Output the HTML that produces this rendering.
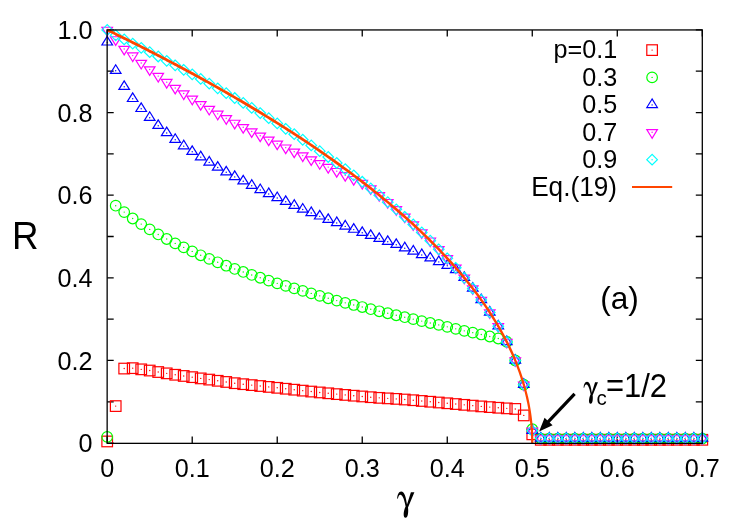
<!DOCTYPE html>
<html><head><meta charset="utf-8"><title>R vs gamma</title>
<style>
html,body{margin:0;padding:0;background:#fff;}
body{width:747px;height:523px;overflow:hidden;font-family:"Liberation Sans",sans-serif;}
svg{display:block;}
</style></head>
<body>
<svg width="747" height="523" viewBox="0 0 747 523">
<rect width="747" height="523" fill="#fff"/>
<path d="M107.20 443.1v-6.5M107.20 29.9v6.5M192.21 443.1v-6.5M192.21 29.9v6.5M277.23 443.1v-6.5M277.23 29.9v6.5M362.24 443.1v-6.5M362.24 29.9v6.5M447.26 443.1v-6.5M447.26 29.9v6.5M532.27 443.1v-6.5M532.27 29.9v6.5M617.29 443.1v-6.5M617.29 29.9v6.5M702.30 443.1v-6.5M702.30 29.9v6.5M107.2 443.10h6.5M702.3 443.10h-6.5M107.2 401.78h6.5M702.3 401.78h-6.5M107.2 360.46h6.5M702.3 360.46h-6.5M107.2 319.14h6.5M702.3 319.14h-6.5M107.2 277.82h6.5M702.3 277.82h-6.5M107.2 236.50h6.5M702.3 236.50h-6.5M107.2 195.18h6.5M702.3 195.18h-6.5M107.2 153.86h6.5M702.3 153.86h-6.5M107.2 112.54h6.5M702.3 112.54h-6.5M107.2 71.22h6.5M702.3 71.22h-6.5M107.2 29.90h6.5M702.3 29.90h-6.5" stroke="#000" stroke-width="1.3" fill="none"/>
<g fill="none" stroke-width="1.20" stroke-linejoin="miter">
<g stroke="#ff0000">
<rect x="646.80" y="44.80" width="10.6" height="10.6"/>
<rect x="101.90" y="436.15" width="10.6" height="10.6"/>
<rect x="110.40" y="400.78" width="10.6" height="10.6"/>
<rect x="118.90" y="363.26" width="10.6" height="10.6"/>
<rect x="127.40" y="362.85" width="10.6" height="10.6"/>
<rect x="135.91" y="364.04" width="10.6" height="10.6"/>
<rect x="144.41" y="365.24" width="10.6" height="10.6"/>
<rect x="152.91" y="366.73" width="10.6" height="10.6"/>
<rect x="161.41" y="368.05" width="10.6" height="10.6"/>
<rect x="169.91" y="369.46" width="10.6" height="10.6"/>
<rect x="178.41" y="370.66" width="10.6" height="10.6"/>
<rect x="186.91" y="371.85" width="10.6" height="10.6"/>
<rect x="195.42" y="373.09" width="10.6" height="10.6"/>
<rect x="203.92" y="374.29" width="10.6" height="10.6"/>
<rect x="212.42" y="375.49" width="10.6" height="10.6"/>
<rect x="220.92" y="376.65" width="10.6" height="10.6"/>
<rect x="229.42" y="377.89" width="10.6" height="10.6"/>
<rect x="237.92" y="378.88" width="10.6" height="10.6"/>
<rect x="246.42" y="379.81" width="10.6" height="10.6"/>
<rect x="254.93" y="380.72" width="10.6" height="10.6"/>
<rect x="263.43" y="381.61" width="10.6" height="10.6"/>
<rect x="271.93" y="382.51" width="10.6" height="10.6"/>
<rect x="280.43" y="383.44" width="10.6" height="10.6"/>
<rect x="288.93" y="384.39" width="10.6" height="10.6"/>
<rect x="297.43" y="385.33" width="10.6" height="10.6"/>
<rect x="305.93" y="386.26" width="10.6" height="10.6"/>
<rect x="314.44" y="387.14" width="10.6" height="10.6"/>
<rect x="322.94" y="387.99" width="10.6" height="10.6"/>
<rect x="331.44" y="388.82" width="10.6" height="10.6"/>
<rect x="339.94" y="389.62" width="10.6" height="10.6"/>
<rect x="348.44" y="390.40" width="10.6" height="10.6"/>
<rect x="356.94" y="391.15" width="10.6" height="10.6"/>
<rect x="365.44" y="391.89" width="10.6" height="10.6"/>
<rect x="373.95" y="392.55" width="10.6" height="10.6"/>
<rect x="382.45" y="393.07" width="10.6" height="10.6"/>
<rect x="390.95" y="393.59" width="10.6" height="10.6"/>
<rect x="399.45" y="394.22" width="10.6" height="10.6"/>
<rect x="407.95" y="394.91" width="10.6" height="10.6"/>
<rect x="416.45" y="395.66" width="10.6" height="10.6"/>
<rect x="424.95" y="396.43" width="10.6" height="10.6"/>
<rect x="433.46" y="397.20" width="10.6" height="10.6"/>
<rect x="441.96" y="397.97" width="10.6" height="10.6"/>
<rect x="450.46" y="398.74" width="10.6" height="10.6"/>
<rect x="458.96" y="399.54" width="10.6" height="10.6"/>
<rect x="467.46" y="400.33" width="10.6" height="10.6"/>
<rect x="475.96" y="401.10" width="10.6" height="10.6"/>
<rect x="484.46" y="401.81" width="10.6" height="10.6"/>
<rect x="492.97" y="402.46" width="10.6" height="10.6"/>
<rect x="501.47" y="403.06" width="10.6" height="10.6"/>
<rect x="509.97" y="403.63" width="10.6" height="10.6"/>
<rect x="518.47" y="410.12" width="10.6" height="10.6"/>
<rect x="526.97" y="429.04" width="10.6" height="10.6"/>
<rect x="535.47" y="434.49" width="10.6" height="10.6"/>
<rect x="543.97" y="434.49" width="10.6" height="10.6"/>
<rect x="552.48" y="434.49" width="10.6" height="10.6"/>
<rect x="560.98" y="434.49" width="10.6" height="10.6"/>
<rect x="569.48" y="434.49" width="10.6" height="10.6"/>
<rect x="577.98" y="434.49" width="10.6" height="10.6"/>
<rect x="586.48" y="434.49" width="10.6" height="10.6"/>
<rect x="594.98" y="434.49" width="10.6" height="10.6"/>
<rect x="603.48" y="434.49" width="10.6" height="10.6"/>
<rect x="611.99" y="434.49" width="10.6" height="10.6"/>
<rect x="620.49" y="434.49" width="10.6" height="10.6"/>
<rect x="628.99" y="434.49" width="10.6" height="10.6"/>
<rect x="637.49" y="434.49" width="10.6" height="10.6"/>
<rect x="645.99" y="434.49" width="10.6" height="10.6"/>
<rect x="654.49" y="434.49" width="10.6" height="10.6"/>
<rect x="662.99" y="434.49" width="10.6" height="10.6"/>
<rect x="671.50" y="434.49" width="10.6" height="10.6"/>
<rect x="680.00" y="434.49" width="10.6" height="10.6"/>
<rect x="688.50" y="434.49" width="10.6" height="10.6"/>
<rect x="697.00" y="434.49" width="10.6" height="10.6"/>
</g>
<g fill="#ff0000" stroke="none">
<circle cx="652.10" cy="50.10" r="0.7"/>
<circle cx="107.20" cy="441.45" r="0.7"/>
<circle cx="115.70" cy="406.08" r="0.7"/>
<circle cx="124.20" cy="368.56" r="0.7"/>
<circle cx="132.70" cy="368.15" r="0.7"/>
<circle cx="141.21" cy="369.34" r="0.7"/>
<circle cx="149.71" cy="370.54" r="0.7"/>
<circle cx="158.21" cy="372.03" r="0.7"/>
<circle cx="166.71" cy="373.35" r="0.7"/>
<circle cx="175.21" cy="374.76" r="0.7"/>
<circle cx="183.71" cy="375.96" r="0.7"/>
<circle cx="192.21" cy="377.15" r="0.7"/>
<circle cx="200.72" cy="378.39" r="0.7"/>
<circle cx="209.22" cy="379.59" r="0.7"/>
<circle cx="217.72" cy="380.79" r="0.7"/>
<circle cx="226.22" cy="381.95" r="0.7"/>
<circle cx="234.72" cy="383.19" r="0.7"/>
<circle cx="243.22" cy="384.18" r="0.7"/>
<circle cx="251.72" cy="385.11" r="0.7"/>
<circle cx="260.23" cy="386.02" r="0.7"/>
<circle cx="268.73" cy="386.91" r="0.7"/>
<circle cx="277.23" cy="387.81" r="0.7"/>
<circle cx="285.73" cy="388.74" r="0.7"/>
<circle cx="294.23" cy="389.69" r="0.7"/>
<circle cx="302.73" cy="390.63" r="0.7"/>
<circle cx="311.23" cy="391.56" r="0.7"/>
<circle cx="319.74" cy="392.44" r="0.7"/>
<circle cx="328.24" cy="393.29" r="0.7"/>
<circle cx="336.74" cy="394.12" r="0.7"/>
<circle cx="345.24" cy="394.92" r="0.7"/>
<circle cx="353.74" cy="395.70" r="0.7"/>
<circle cx="362.24" cy="396.45" r="0.7"/>
<circle cx="370.74" cy="397.19" r="0.7"/>
<circle cx="379.25" cy="397.85" r="0.7"/>
<circle cx="387.75" cy="398.37" r="0.7"/>
<circle cx="396.25" cy="398.89" r="0.7"/>
<circle cx="404.75" cy="399.52" r="0.7"/>
<circle cx="413.25" cy="400.21" r="0.7"/>
<circle cx="421.75" cy="400.96" r="0.7"/>
<circle cx="430.25" cy="401.73" r="0.7"/>
<circle cx="438.76" cy="402.50" r="0.7"/>
<circle cx="447.26" cy="403.27" r="0.7"/>
<circle cx="455.76" cy="404.04" r="0.7"/>
<circle cx="464.26" cy="404.84" r="0.7"/>
<circle cx="472.76" cy="405.63" r="0.7"/>
<circle cx="481.26" cy="406.40" r="0.7"/>
<circle cx="489.76" cy="407.11" r="0.7"/>
<circle cx="498.27" cy="407.76" r="0.7"/>
<circle cx="506.77" cy="408.36" r="0.7"/>
<circle cx="515.27" cy="408.93" r="0.7"/>
<circle cx="523.77" cy="415.42" r="0.7"/>
<circle cx="532.27" cy="434.34" r="0.7"/>
<circle cx="540.77" cy="439.79" r="0.7"/>
<circle cx="549.27" cy="439.79" r="0.7"/>
<circle cx="557.78" cy="439.79" r="0.7"/>
<circle cx="566.28" cy="439.79" r="0.7"/>
<circle cx="574.78" cy="439.79" r="0.7"/>
<circle cx="583.28" cy="439.79" r="0.7"/>
<circle cx="591.78" cy="439.79" r="0.7"/>
<circle cx="600.28" cy="439.79" r="0.7"/>
<circle cx="608.78" cy="439.79" r="0.7"/>
<circle cx="617.29" cy="439.79" r="0.7"/>
<circle cx="625.79" cy="439.79" r="0.7"/>
<circle cx="634.29" cy="439.79" r="0.7"/>
<circle cx="642.79" cy="439.79" r="0.7"/>
<circle cx="651.29" cy="439.79" r="0.7"/>
<circle cx="659.79" cy="439.79" r="0.7"/>
<circle cx="668.29" cy="439.79" r="0.7"/>
<circle cx="676.80" cy="439.79" r="0.7"/>
<circle cx="685.30" cy="439.79" r="0.7"/>
<circle cx="693.80" cy="439.79" r="0.7"/>
<circle cx="702.30" cy="439.79" r="0.7"/>
</g>
<g stroke="#00ff00">
<circle cx="652.10" cy="77.40" r="5.3"/>
<circle cx="107.20" cy="436.90" r="5.3"/>
<circle cx="115.70" cy="205.68" r="5.3"/>
<circle cx="124.20" cy="212.12" r="5.3"/>
<circle cx="132.70" cy="218.48" r="5.3"/>
<circle cx="141.21" cy="224.10" r="5.3"/>
<circle cx="149.71" cy="229.39" r="5.3"/>
<circle cx="158.21" cy="234.43" r="5.3"/>
<circle cx="166.71" cy="238.98" r="5.3"/>
<circle cx="175.21" cy="243.40" r="5.3"/>
<circle cx="183.71" cy="247.41" r="5.3"/>
<circle cx="192.21" cy="251.42" r="5.3"/>
<circle cx="200.72" cy="255.30" r="5.3"/>
<circle cx="209.22" cy="258.90" r="5.3"/>
<circle cx="217.72" cy="262.32" r="5.3"/>
<circle cx="226.22" cy="265.71" r="5.3"/>
<circle cx="234.72" cy="268.94" r="5.3"/>
<circle cx="243.22" cy="271.95" r="5.3"/>
<circle cx="251.72" cy="274.93" r="5.3"/>
<circle cx="260.23" cy="277.74" r="5.3"/>
<circle cx="268.73" cy="280.59" r="5.3"/>
<circle cx="277.23" cy="283.36" r="5.3"/>
<circle cx="285.73" cy="285.92" r="5.3"/>
<circle cx="294.23" cy="288.40" r="5.3"/>
<circle cx="302.73" cy="290.90" r="5.3"/>
<circle cx="311.23" cy="293.39" r="5.3"/>
<circle cx="319.74" cy="295.84" r="5.3"/>
<circle cx="328.24" cy="298.24" r="5.3"/>
<circle cx="336.74" cy="300.60" r="5.3"/>
<circle cx="345.24" cy="302.86" r="5.3"/>
<circle cx="353.74" cy="304.97" r="5.3"/>
<circle cx="362.24" cy="307.03" r="5.3"/>
<circle cx="370.74" cy="309.18" r="5.3"/>
<circle cx="379.25" cy="311.29" r="5.3"/>
<circle cx="387.75" cy="313.27" r="5.3"/>
<circle cx="396.25" cy="315.24" r="5.3"/>
<circle cx="404.75" cy="317.20" r="5.3"/>
<circle cx="413.25" cy="319.15" r="5.3"/>
<circle cx="421.75" cy="321.09" r="5.3"/>
<circle cx="430.25" cy="323.02" r="5.3"/>
<circle cx="438.76" cy="324.92" r="5.3"/>
<circle cx="447.26" cy="326.83" r="5.3"/>
<circle cx="455.76" cy="328.84" r="5.3"/>
<circle cx="464.26" cy="330.83" r="5.3"/>
<circle cx="472.76" cy="332.65" r="5.3"/>
<circle cx="481.26" cy="334.47" r="5.3"/>
<circle cx="489.76" cy="336.49" r="5.3"/>
<circle cx="498.27" cy="338.48" r="5.3"/>
<circle cx="506.77" cy="341.89" r="5.3"/>
<circle cx="515.27" cy="360.46" r="5.3"/>
<circle cx="523.77" cy="384.66" r="5.3"/>
<circle cx="532.27" cy="429.26" r="5.3"/>
<circle cx="540.77" cy="438.55" r="5.3"/>
<circle cx="549.27" cy="438.55" r="5.3"/>
<circle cx="557.78" cy="438.55" r="5.3"/>
<circle cx="566.28" cy="438.55" r="5.3"/>
<circle cx="574.78" cy="438.55" r="5.3"/>
<circle cx="583.28" cy="438.55" r="5.3"/>
<circle cx="591.78" cy="438.55" r="5.3"/>
<circle cx="600.28" cy="438.55" r="5.3"/>
<circle cx="608.78" cy="438.55" r="5.3"/>
<circle cx="617.29" cy="438.55" r="5.3"/>
<circle cx="625.79" cy="438.55" r="5.3"/>
<circle cx="634.29" cy="438.55" r="5.3"/>
<circle cx="642.79" cy="438.55" r="5.3"/>
<circle cx="651.29" cy="438.55" r="5.3"/>
<circle cx="659.79" cy="438.55" r="5.3"/>
<circle cx="668.29" cy="438.55" r="5.3"/>
<circle cx="676.80" cy="438.55" r="5.3"/>
<circle cx="685.30" cy="438.55" r="5.3"/>
<circle cx="693.80" cy="438.55" r="5.3"/>
<circle cx="702.30" cy="438.55" r="5.3"/>
</g>
<g fill="#00ff00" stroke="none">
<circle cx="652.10" cy="77.40" r="0.7"/>
<circle cx="107.20" cy="436.90" r="0.7"/>
<circle cx="115.70" cy="205.68" r="0.7"/>
<circle cx="124.20" cy="212.12" r="0.7"/>
<circle cx="132.70" cy="218.48" r="0.7"/>
<circle cx="141.21" cy="224.10" r="0.7"/>
<circle cx="149.71" cy="229.39" r="0.7"/>
<circle cx="158.21" cy="234.43" r="0.7"/>
<circle cx="166.71" cy="238.98" r="0.7"/>
<circle cx="175.21" cy="243.40" r="0.7"/>
<circle cx="183.71" cy="247.41" r="0.7"/>
<circle cx="192.21" cy="251.42" r="0.7"/>
<circle cx="200.72" cy="255.30" r="0.7"/>
<circle cx="209.22" cy="258.90" r="0.7"/>
<circle cx="217.72" cy="262.32" r="0.7"/>
<circle cx="226.22" cy="265.71" r="0.7"/>
<circle cx="234.72" cy="268.94" r="0.7"/>
<circle cx="243.22" cy="271.95" r="0.7"/>
<circle cx="251.72" cy="274.93" r="0.7"/>
<circle cx="260.23" cy="277.74" r="0.7"/>
<circle cx="268.73" cy="280.59" r="0.7"/>
<circle cx="277.23" cy="283.36" r="0.7"/>
<circle cx="285.73" cy="285.92" r="0.7"/>
<circle cx="294.23" cy="288.40" r="0.7"/>
<circle cx="302.73" cy="290.90" r="0.7"/>
<circle cx="311.23" cy="293.39" r="0.7"/>
<circle cx="319.74" cy="295.84" r="0.7"/>
<circle cx="328.24" cy="298.24" r="0.7"/>
<circle cx="336.74" cy="300.60" r="0.7"/>
<circle cx="345.24" cy="302.86" r="0.7"/>
<circle cx="353.74" cy="304.97" r="0.7"/>
<circle cx="362.24" cy="307.03" r="0.7"/>
<circle cx="370.74" cy="309.18" r="0.7"/>
<circle cx="379.25" cy="311.29" r="0.7"/>
<circle cx="387.75" cy="313.27" r="0.7"/>
<circle cx="396.25" cy="315.24" r="0.7"/>
<circle cx="404.75" cy="317.20" r="0.7"/>
<circle cx="413.25" cy="319.15" r="0.7"/>
<circle cx="421.75" cy="321.09" r="0.7"/>
<circle cx="430.25" cy="323.02" r="0.7"/>
<circle cx="438.76" cy="324.92" r="0.7"/>
<circle cx="447.26" cy="326.83" r="0.7"/>
<circle cx="455.76" cy="328.84" r="0.7"/>
<circle cx="464.26" cy="330.83" r="0.7"/>
<circle cx="472.76" cy="332.65" r="0.7"/>
<circle cx="481.26" cy="334.47" r="0.7"/>
<circle cx="489.76" cy="336.49" r="0.7"/>
<circle cx="498.27" cy="338.48" r="0.7"/>
<circle cx="506.77" cy="341.89" r="0.7"/>
<circle cx="515.27" cy="360.46" r="0.7"/>
<circle cx="523.77" cy="384.66" r="0.7"/>
<circle cx="532.27" cy="429.26" r="0.7"/>
<circle cx="540.77" cy="438.55" r="0.7"/>
<circle cx="549.27" cy="438.55" r="0.7"/>
<circle cx="557.78" cy="438.55" r="0.7"/>
<circle cx="566.28" cy="438.55" r="0.7"/>
<circle cx="574.78" cy="438.55" r="0.7"/>
<circle cx="583.28" cy="438.55" r="0.7"/>
<circle cx="591.78" cy="438.55" r="0.7"/>
<circle cx="600.28" cy="438.55" r="0.7"/>
<circle cx="608.78" cy="438.55" r="0.7"/>
<circle cx="617.29" cy="438.55" r="0.7"/>
<circle cx="625.79" cy="438.55" r="0.7"/>
<circle cx="634.29" cy="438.55" r="0.7"/>
<circle cx="642.79" cy="438.55" r="0.7"/>
<circle cx="651.29" cy="438.55" r="0.7"/>
<circle cx="659.79" cy="438.55" r="0.7"/>
<circle cx="668.29" cy="438.55" r="0.7"/>
<circle cx="676.80" cy="438.55" r="0.7"/>
<circle cx="685.30" cy="438.55" r="0.7"/>
<circle cx="693.80" cy="438.55" r="0.7"/>
<circle cx="702.30" cy="438.55" r="0.7"/>
</g>
<g stroke="#0000ff">
<path d="M652.10 98.96l-5.3 8.59h10.6z"/>
<path d="M107.20 36.40l-5.3 8.59h10.6z"/>
<path d="M115.70 64.79l-5.3 8.59h10.6z"/>
<path d="M124.20 80.82l-5.3 8.59h10.6z"/>
<path d="M132.70 92.89l-5.3 8.59h10.6z"/>
<path d="M141.21 102.89l-5.3 8.59h10.6z"/>
<path d="M149.71 111.77l-5.3 8.59h10.6z"/>
<path d="M158.21 119.83l-5.3 8.59h10.6z"/>
<path d="M166.71 127.06l-5.3 8.59h10.6z"/>
<path d="M175.21 133.79l-5.3 8.59h10.6z"/>
<path d="M183.71 140.20l-5.3 8.59h10.6z"/>
<path d="M192.21 145.82l-5.3 8.59h10.6z"/>
<path d="M200.72 151.23l-5.3 8.59h10.6z"/>
<path d="M209.22 156.48l-5.3 8.59h10.6z"/>
<path d="M217.72 161.56l-5.3 8.59h10.6z"/>
<path d="M226.22 166.31l-5.3 8.59h10.6z"/>
<path d="M234.72 170.94l-5.3 8.59h10.6z"/>
<path d="M243.22 175.36l-5.3 8.59h10.6z"/>
<path d="M251.72 179.74l-5.3 8.59h10.6z"/>
<path d="M260.23 184.04l-5.3 8.59h10.6z"/>
<path d="M268.73 188.00l-5.3 8.59h10.6z"/>
<path d="M277.23 192.05l-5.3 8.59h10.6z"/>
<path d="M285.73 195.86l-5.3 8.59h10.6z"/>
<path d="M294.23 199.74l-5.3 8.59h10.6z"/>
<path d="M302.73 203.54l-5.3 8.59h10.6z"/>
<path d="M311.23 207.01l-5.3 8.59h10.6z"/>
<path d="M319.74 210.40l-5.3 8.59h10.6z"/>
<path d="M328.24 213.83l-5.3 8.59h10.6z"/>
<path d="M336.74 217.01l-5.3 8.59h10.6z"/>
<path d="M345.24 220.44l-5.3 8.59h10.6z"/>
<path d="M353.74 223.66l-5.3 8.59h10.6z"/>
<path d="M362.24 226.85l-5.3 8.59h10.6z"/>
<path d="M370.74 229.86l-5.3 8.59h10.6z"/>
<path d="M379.25 232.88l-5.3 8.59h10.6z"/>
<path d="M387.75 235.85l-5.3 8.59h10.6z"/>
<path d="M396.25 238.87l-5.3 8.59h10.6z"/>
<path d="M404.75 242.26l-5.3 8.59h10.6z"/>
<path d="M413.25 245.48l-5.3 8.59h10.6z"/>
<path d="M421.75 248.99l-5.3 8.59h10.6z"/>
<path d="M430.25 252.38l-5.3 8.59h10.6z"/>
<path d="M438.76 255.98l-5.3 8.59h10.6z"/>
<path d="M447.26 259.78l-5.3 8.59h10.6z"/>
<path d="M455.76 263.99l-5.3 8.59h10.6z"/>
<path d="M464.26 271.88l-5.3 8.59h10.6z"/>
<path d="M472.76 282.56l-5.3 8.59h10.6z"/>
<path d="M481.26 294.03l-5.3 8.59h10.6z"/>
<path d="M489.76 306.50l-5.3 8.59h10.6z"/>
<path d="M498.27 320.29l-5.3 8.59h10.6z"/>
<path d="M506.77 335.95l-5.3 8.59h10.6z"/>
<path d="M515.27 354.52l-5.3 8.59h10.6z"/>
<path d="M523.77 378.73l-5.3 8.59h10.6z"/>
<path d="M532.27 424.77l-5.3 8.59h10.6z"/>
<path d="M540.77 432.45l-5.3 8.59h10.6z"/>
<path d="M549.27 432.45l-5.3 8.59h10.6z"/>
<path d="M557.78 432.45l-5.3 8.59h10.6z"/>
<path d="M566.28 432.45l-5.3 8.59h10.6z"/>
<path d="M574.78 432.45l-5.3 8.59h10.6z"/>
<path d="M583.28 432.45l-5.3 8.59h10.6z"/>
<path d="M591.78 432.45l-5.3 8.59h10.6z"/>
<path d="M600.28 432.45l-5.3 8.59h10.6z"/>
<path d="M608.78 432.45l-5.3 8.59h10.6z"/>
<path d="M617.29 432.45l-5.3 8.59h10.6z"/>
<path d="M625.79 432.45l-5.3 8.59h10.6z"/>
<path d="M634.29 432.45l-5.3 8.59h10.6z"/>
<path d="M642.79 432.45l-5.3 8.59h10.6z"/>
<path d="M651.29 432.45l-5.3 8.59h10.6z"/>
<path d="M659.79 432.45l-5.3 8.59h10.6z"/>
<path d="M668.29 432.45l-5.3 8.59h10.6z"/>
<path d="M676.80 432.45l-5.3 8.59h10.6z"/>
<path d="M685.30 432.45l-5.3 8.59h10.6z"/>
<path d="M693.80 432.45l-5.3 8.59h10.6z"/>
<path d="M702.30 432.45l-5.3 8.59h10.6z"/>
</g>
<g fill="#0000ff" stroke="none">
<circle cx="652.10" cy="104.90" r="0.7"/>
<circle cx="107.20" cy="42.34" r="0.7"/>
<circle cx="115.70" cy="70.72" r="0.7"/>
<circle cx="124.20" cy="86.76" r="0.7"/>
<circle cx="132.70" cy="98.82" r="0.7"/>
<circle cx="141.21" cy="108.82" r="0.7"/>
<circle cx="149.71" cy="117.70" r="0.7"/>
<circle cx="158.21" cy="125.76" r="0.7"/>
<circle cx="166.71" cy="132.99" r="0.7"/>
<circle cx="175.21" cy="139.73" r="0.7"/>
<circle cx="183.71" cy="146.13" r="0.7"/>
<circle cx="192.21" cy="151.75" r="0.7"/>
<circle cx="200.72" cy="157.17" r="0.7"/>
<circle cx="209.22" cy="162.41" r="0.7"/>
<circle cx="217.72" cy="167.50" r="0.7"/>
<circle cx="226.22" cy="172.25" r="0.7"/>
<circle cx="234.72" cy="176.88" r="0.7"/>
<circle cx="243.22" cy="181.30" r="0.7"/>
<circle cx="251.72" cy="185.68" r="0.7"/>
<circle cx="260.23" cy="189.97" r="0.7"/>
<circle cx="268.73" cy="193.94" r="0.7"/>
<circle cx="277.23" cy="197.99" r="0.7"/>
<circle cx="285.73" cy="201.79" r="0.7"/>
<circle cx="294.23" cy="205.68" r="0.7"/>
<circle cx="302.73" cy="209.48" r="0.7"/>
<circle cx="311.23" cy="212.95" r="0.7"/>
<circle cx="319.74" cy="216.34" r="0.7"/>
<circle cx="328.24" cy="219.77" r="0.7"/>
<circle cx="336.74" cy="222.95" r="0.7"/>
<circle cx="345.24" cy="226.38" r="0.7"/>
<circle cx="353.74" cy="229.60" r="0.7"/>
<circle cx="362.24" cy="232.78" r="0.7"/>
<circle cx="370.74" cy="235.80" r="0.7"/>
<circle cx="379.25" cy="238.81" r="0.7"/>
<circle cx="387.75" cy="241.79" r="0.7"/>
<circle cx="396.25" cy="244.81" r="0.7"/>
<circle cx="404.75" cy="248.19" r="0.7"/>
<circle cx="413.25" cy="251.42" r="0.7"/>
<circle cx="421.75" cy="254.93" r="0.7"/>
<circle cx="430.25" cy="258.32" r="0.7"/>
<circle cx="438.76" cy="261.91" r="0.7"/>
<circle cx="447.26" cy="265.71" r="0.7"/>
<circle cx="455.76" cy="269.93" r="0.7"/>
<circle cx="464.26" cy="277.82" r="0.7"/>
<circle cx="472.76" cy="288.49" r="0.7"/>
<circle cx="481.26" cy="299.96" r="0.7"/>
<circle cx="489.76" cy="312.43" r="0.7"/>
<circle cx="498.27" cy="326.23" r="0.7"/>
<circle cx="506.77" cy="341.89" r="0.7"/>
<circle cx="515.27" cy="360.46" r="0.7"/>
<circle cx="523.77" cy="384.66" r="0.7"/>
<circle cx="532.27" cy="430.70" r="0.7"/>
<circle cx="540.77" cy="438.39" r="0.7"/>
<circle cx="549.27" cy="438.39" r="0.7"/>
<circle cx="557.78" cy="438.39" r="0.7"/>
<circle cx="566.28" cy="438.39" r="0.7"/>
<circle cx="574.78" cy="438.39" r="0.7"/>
<circle cx="583.28" cy="438.39" r="0.7"/>
<circle cx="591.78" cy="438.39" r="0.7"/>
<circle cx="600.28" cy="438.39" r="0.7"/>
<circle cx="608.78" cy="438.39" r="0.7"/>
<circle cx="617.29" cy="438.39" r="0.7"/>
<circle cx="625.79" cy="438.39" r="0.7"/>
<circle cx="634.29" cy="438.39" r="0.7"/>
<circle cx="642.79" cy="438.39" r="0.7"/>
<circle cx="651.29" cy="438.39" r="0.7"/>
<circle cx="659.79" cy="438.39" r="0.7"/>
<circle cx="668.29" cy="438.39" r="0.7"/>
<circle cx="676.80" cy="438.39" r="0.7"/>
<circle cx="685.30" cy="438.39" r="0.7"/>
<circle cx="693.80" cy="438.39" r="0.7"/>
<circle cx="702.30" cy="438.39" r="0.7"/>
</g>
<g stroke="#ff00ff">
<path d="M652.10 138.24l-5.3 -8.59h10.6z"/>
<path d="M107.20 35.84l-5.3 -8.59h10.6z"/>
<path d="M115.70 45.34l-5.3 -8.59h10.6z"/>
<path d="M124.20 54.93l-5.3 -8.59h10.6z"/>
<path d="M132.70 61.54l-5.3 -8.59h10.6z"/>
<path d="M141.21 68.97l-5.3 -8.59h10.6z"/>
<path d="M149.71 75.42l-5.3 -8.59h10.6z"/>
<path d="M158.21 82.03l-5.3 -8.59h10.6z"/>
<path d="M166.71 88.06l-5.3 -8.59h10.6z"/>
<path d="M175.21 93.89l-5.3 -8.59h10.6z"/>
<path d="M183.71 99.51l-5.3 -8.59h10.6z"/>
<path d="M192.21 104.76l-5.3 -8.59h10.6z"/>
<path d="M200.72 110.17l-5.3 -8.59h10.6z"/>
<path d="M209.22 114.96l-5.3 -8.59h10.6z"/>
<path d="M217.72 119.80l-5.3 -8.59h10.6z"/>
<path d="M226.22 124.26l-5.3 -8.59h10.6z"/>
<path d="M234.72 128.85l-5.3 -8.59h10.6z"/>
<path d="M243.22 133.14l-5.3 -8.59h10.6z"/>
<path d="M251.72 137.40l-5.3 -8.59h10.6z"/>
<path d="M260.23 141.62l-5.3 -8.59h10.6z"/>
<path d="M268.73 145.66l-5.3 -8.59h10.6z"/>
<path d="M277.23 149.67l-5.3 -8.59h10.6z"/>
<path d="M285.73 153.60l-5.3 -8.59h10.6z"/>
<path d="M294.23 157.65l-5.3 -8.59h10.6z"/>
<path d="M302.73 161.53l-5.3 -8.59h10.6z"/>
<path d="M311.23 165.42l-5.3 -8.59h10.6z"/>
<path d="M319.74 169.22l-5.3 -8.59h10.6z"/>
<path d="M328.24 173.06l-5.3 -8.59h10.6z"/>
<path d="M336.74 177.11l-5.3 -8.59h10.6z"/>
<path d="M345.24 181.12l-5.3 -8.59h10.6z"/>
<path d="M353.74 185.08l-5.3 -8.59h10.6z"/>
<path d="M362.24 189.05l-5.3 -8.59h10.6z"/>
<path d="M370.74 194.32l-5.3 -8.59h10.6z"/>
<path d="M379.25 201.12l-5.3 -8.59h10.6z"/>
<path d="M387.75 208.10l-5.3 -8.59h10.6z"/>
<path d="M396.25 215.29l-5.3 -8.59h10.6z"/>
<path d="M404.75 222.72l-5.3 -8.59h10.6z"/>
<path d="M413.25 230.39l-5.3 -8.59h10.6z"/>
<path d="M421.75 238.34l-5.3 -8.59h10.6z"/>
<path d="M430.25 246.61l-5.3 -8.59h10.6z"/>
<path d="M438.76 255.23l-5.3 -8.59h10.6z"/>
<path d="M447.26 264.25l-5.3 -8.59h10.6z"/>
<path d="M455.76 273.73l-5.3 -8.59h10.6z"/>
<path d="M464.26 283.76l-5.3 -8.59h10.6z"/>
<path d="M472.76 294.43l-5.3 -8.59h10.6z"/>
<path d="M481.26 305.90l-5.3 -8.59h10.6z"/>
<path d="M489.76 318.37l-5.3 -8.59h10.6z"/>
<path d="M498.27 332.17l-5.3 -8.59h10.6z"/>
<path d="M506.77 347.82l-5.3 -8.59h10.6z"/>
<path d="M515.27 366.40l-5.3 -8.59h10.6z"/>
<path d="M523.77 390.60l-5.3 -8.59h10.6z"/>
<path d="M532.27 436.64l-5.3 -8.59h10.6z"/>
<path d="M540.77 444.33l-5.3 -8.59h10.6z"/>
<path d="M549.27 444.33l-5.3 -8.59h10.6z"/>
<path d="M557.78 444.33l-5.3 -8.59h10.6z"/>
<path d="M566.28 444.33l-5.3 -8.59h10.6z"/>
<path d="M574.78 444.33l-5.3 -8.59h10.6z"/>
<path d="M583.28 444.33l-5.3 -8.59h10.6z"/>
<path d="M591.78 444.33l-5.3 -8.59h10.6z"/>
<path d="M600.28 444.33l-5.3 -8.59h10.6z"/>
<path d="M608.78 444.33l-5.3 -8.59h10.6z"/>
<path d="M617.29 444.33l-5.3 -8.59h10.6z"/>
<path d="M625.79 444.33l-5.3 -8.59h10.6z"/>
<path d="M634.29 444.33l-5.3 -8.59h10.6z"/>
<path d="M642.79 444.33l-5.3 -8.59h10.6z"/>
<path d="M651.29 444.33l-5.3 -8.59h10.6z"/>
<path d="M659.79 444.33l-5.3 -8.59h10.6z"/>
<path d="M668.29 444.33l-5.3 -8.59h10.6z"/>
<path d="M676.80 444.33l-5.3 -8.59h10.6z"/>
<path d="M685.30 444.33l-5.3 -8.59h10.6z"/>
<path d="M693.80 444.33l-5.3 -8.59h10.6z"/>
<path d="M702.30 444.33l-5.3 -8.59h10.6z"/>
</g>
<g fill="#ff00ff" stroke="none">
<circle cx="652.10" cy="132.30" r="0.7"/>
<circle cx="107.20" cy="29.90" r="0.7"/>
<circle cx="115.70" cy="39.40" r="0.7"/>
<circle cx="124.20" cy="48.99" r="0.7"/>
<circle cx="132.70" cy="55.60" r="0.7"/>
<circle cx="141.21" cy="63.04" r="0.7"/>
<circle cx="149.71" cy="69.48" r="0.7"/>
<circle cx="158.21" cy="76.10" r="0.7"/>
<circle cx="166.71" cy="82.13" r="0.7"/>
<circle cx="175.21" cy="87.95" r="0.7"/>
<circle cx="183.71" cy="93.57" r="0.7"/>
<circle cx="192.21" cy="98.82" r="0.7"/>
<circle cx="200.72" cy="104.23" r="0.7"/>
<circle cx="209.22" cy="109.03" r="0.7"/>
<circle cx="217.72" cy="113.86" r="0.7"/>
<circle cx="226.22" cy="118.32" r="0.7"/>
<circle cx="234.72" cy="122.91" r="0.7"/>
<circle cx="243.22" cy="127.21" r="0.7"/>
<circle cx="251.72" cy="131.46" r="0.7"/>
<circle cx="260.23" cy="135.68" r="0.7"/>
<circle cx="268.73" cy="139.73" r="0.7"/>
<circle cx="277.23" cy="143.74" r="0.7"/>
<circle cx="285.73" cy="147.66" r="0.7"/>
<circle cx="294.23" cy="151.71" r="0.7"/>
<circle cx="302.73" cy="155.60" r="0.7"/>
<circle cx="311.23" cy="159.48" r="0.7"/>
<circle cx="319.74" cy="163.28" r="0.7"/>
<circle cx="328.24" cy="167.12" r="0.7"/>
<circle cx="336.74" cy="171.17" r="0.7"/>
<circle cx="345.24" cy="175.18" r="0.7"/>
<circle cx="353.74" cy="179.15" r="0.7"/>
<circle cx="362.24" cy="183.11" r="0.7"/>
<circle cx="370.74" cy="188.39" r="0.7"/>
<circle cx="379.25" cy="195.18" r="0.7"/>
<circle cx="387.75" cy="202.17" r="0.7"/>
<circle cx="396.25" cy="209.36" r="0.7"/>
<circle cx="404.75" cy="216.78" r="0.7"/>
<circle cx="413.25" cy="224.46" r="0.7"/>
<circle cx="421.75" cy="232.41" r="0.7"/>
<circle cx="430.25" cy="240.67" r="0.7"/>
<circle cx="438.76" cy="249.29" r="0.7"/>
<circle cx="447.26" cy="258.31" r="0.7"/>
<circle cx="455.76" cy="267.79" r="0.7"/>
<circle cx="464.26" cy="277.82" r="0.7"/>
<circle cx="472.76" cy="288.49" r="0.7"/>
<circle cx="481.26" cy="299.96" r="0.7"/>
<circle cx="489.76" cy="312.43" r="0.7"/>
<circle cx="498.27" cy="326.23" r="0.7"/>
<circle cx="506.77" cy="341.89" r="0.7"/>
<circle cx="515.27" cy="360.46" r="0.7"/>
<circle cx="523.77" cy="384.66" r="0.7"/>
<circle cx="532.27" cy="430.70" r="0.7"/>
<circle cx="540.77" cy="438.39" r="0.7"/>
<circle cx="549.27" cy="438.39" r="0.7"/>
<circle cx="557.78" cy="438.39" r="0.7"/>
<circle cx="566.28" cy="438.39" r="0.7"/>
<circle cx="574.78" cy="438.39" r="0.7"/>
<circle cx="583.28" cy="438.39" r="0.7"/>
<circle cx="591.78" cy="438.39" r="0.7"/>
<circle cx="600.28" cy="438.39" r="0.7"/>
<circle cx="608.78" cy="438.39" r="0.7"/>
<circle cx="617.29" cy="438.39" r="0.7"/>
<circle cx="625.79" cy="438.39" r="0.7"/>
<circle cx="634.29" cy="438.39" r="0.7"/>
<circle cx="642.79" cy="438.39" r="0.7"/>
<circle cx="651.29" cy="438.39" r="0.7"/>
<circle cx="659.79" cy="438.39" r="0.7"/>
<circle cx="668.29" cy="438.39" r="0.7"/>
<circle cx="676.80" cy="438.39" r="0.7"/>
<circle cx="685.30" cy="438.39" r="0.7"/>
<circle cx="693.80" cy="438.39" r="0.7"/>
<circle cx="702.30" cy="438.39" r="0.7"/>
</g>
<g stroke="#00ffff">
<path d="M652.10 154.40l-5.3 5.3l5.3 5.3l5.3 -5.3z"/>
<path d="M107.20 24.60l-5.3 5.3l5.3 5.3l5.3 -5.3z"/>
<path d="M115.70 29.95l-5.3 5.3l5.3 5.3l5.3 -5.3z"/>
<path d="M124.20 34.11l-5.3 5.3l5.3 5.3l5.3 -5.3z"/>
<path d="M132.70 38.30l-5.3 5.3l5.3 5.3l5.3 -5.3z"/>
<path d="M141.21 42.55l-5.3 5.3l5.3 5.3l5.3 -5.3z"/>
<path d="M149.71 46.84l-5.3 5.3l5.3 5.3l5.3 -5.3z"/>
<path d="M158.21 51.18l-5.3 5.3l5.3 5.3l5.3 -5.3z"/>
<path d="M166.71 55.56l-5.3 5.3l5.3 5.3l5.3 -5.3z"/>
<path d="M175.21 60.00l-5.3 5.3l5.3 5.3l5.3 -5.3z"/>
<path d="M183.71 64.50l-5.3 5.3l5.3 5.3l5.3 -5.3z"/>
<path d="M192.21 69.05l-5.3 5.3l5.3 5.3l5.3 -5.3z"/>
<path d="M200.72 73.66l-5.3 5.3l5.3 5.3l5.3 -5.3z"/>
<path d="M209.22 78.32l-5.3 5.3l5.3 5.3l5.3 -5.3z"/>
<path d="M217.72 83.05l-5.3 5.3l5.3 5.3l5.3 -5.3z"/>
<path d="M226.22 87.85l-5.3 5.3l5.3 5.3l5.3 -5.3z"/>
<path d="M234.72 92.71l-5.3 5.3l5.3 5.3l5.3 -5.3z"/>
<path d="M243.22 97.65l-5.3 5.3l5.3 5.3l5.3 -5.3z"/>
<path d="M251.72 102.65l-5.3 5.3l5.3 5.3l5.3 -5.3z"/>
<path d="M260.23 107.74l-5.3 5.3l5.3 5.3l5.3 -5.3z"/>
<path d="M268.73 112.90l-5.3 5.3l5.3 5.3l5.3 -5.3z"/>
<path d="M277.23 118.15l-5.3 5.3l5.3 5.3l5.3 -5.3z"/>
<path d="M285.73 123.49l-5.3 5.3l5.3 5.3l5.3 -5.3z"/>
<path d="M294.23 128.92l-5.3 5.3l5.3 5.3l5.3 -5.3z"/>
<path d="M302.73 134.45l-5.3 5.3l5.3 5.3l5.3 -5.3z"/>
<path d="M311.23 140.09l-5.3 5.3l5.3 5.3l5.3 -5.3z"/>
<path d="M319.74 145.83l-5.3 5.3l5.3 5.3l5.3 -5.3z"/>
<path d="M328.24 151.69l-5.3 5.3l5.3 5.3l5.3 -5.3z"/>
<path d="M336.74 157.68l-5.3 5.3l5.3 5.3l5.3 -5.3z"/>
<path d="M345.24 163.80l-5.3 5.3l5.3 5.3l5.3 -5.3z"/>
<path d="M353.74 170.06l-5.3 5.3l5.3 5.3l5.3 -5.3z"/>
<path d="M362.24 176.47l-5.3 5.3l5.3 5.3l5.3 -5.3z"/>
<path d="M370.74 183.09l-5.3 5.3l5.3 5.3l5.3 -5.3z"/>
<path d="M379.25 189.88l-5.3 5.3l5.3 5.3l5.3 -5.3z"/>
<path d="M387.75 196.87l-5.3 5.3l5.3 5.3l5.3 -5.3z"/>
<path d="M396.25 204.06l-5.3 5.3l5.3 5.3l5.3 -5.3z"/>
<path d="M404.75 211.48l-5.3 5.3l5.3 5.3l5.3 -5.3z"/>
<path d="M413.25 219.16l-5.3 5.3l5.3 5.3l5.3 -5.3z"/>
<path d="M421.75 227.11l-5.3 5.3l5.3 5.3l5.3 -5.3z"/>
<path d="M430.25 235.37l-5.3 5.3l5.3 5.3l5.3 -5.3z"/>
<path d="M438.76 243.99l-5.3 5.3l5.3 5.3l5.3 -5.3z"/>
<path d="M447.26 253.01l-5.3 5.3l5.3 5.3l5.3 -5.3z"/>
<path d="M455.76 262.49l-5.3 5.3l5.3 5.3l5.3 -5.3z"/>
<path d="M464.26 272.52l-5.3 5.3l5.3 5.3l5.3 -5.3z"/>
<path d="M472.76 283.19l-5.3 5.3l5.3 5.3l5.3 -5.3z"/>
<path d="M481.26 294.66l-5.3 5.3l5.3 5.3l5.3 -5.3z"/>
<path d="M489.76 307.13l-5.3 5.3l5.3 5.3l5.3 -5.3z"/>
<path d="M498.27 320.93l-5.3 5.3l5.3 5.3l5.3 -5.3z"/>
<path d="M506.77 336.59l-5.3 5.3l5.3 5.3l5.3 -5.3z"/>
<path d="M515.27 355.16l-5.3 5.3l5.3 5.3l5.3 -5.3z"/>
<path d="M523.77 379.36l-5.3 5.3l5.3 5.3l5.3 -5.3z"/>
<path d="M532.27 425.57l-5.3 5.3l5.3 5.3l5.3 -5.3z"/>
<path d="M540.77 433.09l-5.3 5.3l5.3 5.3l5.3 -5.3z"/>
<path d="M549.27 433.09l-5.3 5.3l5.3 5.3l5.3 -5.3z"/>
<path d="M557.78 433.09l-5.3 5.3l5.3 5.3l5.3 -5.3z"/>
<path d="M566.28 433.09l-5.3 5.3l5.3 5.3l5.3 -5.3z"/>
<path d="M574.78 433.09l-5.3 5.3l5.3 5.3l5.3 -5.3z"/>
<path d="M583.28 433.09l-5.3 5.3l5.3 5.3l5.3 -5.3z"/>
<path d="M591.78 433.09l-5.3 5.3l5.3 5.3l5.3 -5.3z"/>
<path d="M600.28 433.09l-5.3 5.3l5.3 5.3l5.3 -5.3z"/>
<path d="M608.78 433.09l-5.3 5.3l5.3 5.3l5.3 -5.3z"/>
<path d="M617.29 433.09l-5.3 5.3l5.3 5.3l5.3 -5.3z"/>
<path d="M625.79 433.09l-5.3 5.3l5.3 5.3l5.3 -5.3z"/>
<path d="M634.29 433.09l-5.3 5.3l5.3 5.3l5.3 -5.3z"/>
<path d="M642.79 433.09l-5.3 5.3l5.3 5.3l5.3 -5.3z"/>
<path d="M651.29 433.09l-5.3 5.3l5.3 5.3l5.3 -5.3z"/>
<path d="M659.79 433.09l-5.3 5.3l5.3 5.3l5.3 -5.3z"/>
<path d="M668.29 433.09l-5.3 5.3l5.3 5.3l5.3 -5.3z"/>
<path d="M676.80 433.09l-5.3 5.3l5.3 5.3l5.3 -5.3z"/>
<path d="M685.30 433.09l-5.3 5.3l5.3 5.3l5.3 -5.3z"/>
<path d="M693.80 433.09l-5.3 5.3l5.3 5.3l5.3 -5.3z"/>
<path d="M702.30 433.09l-5.3 5.3l5.3 5.3l5.3 -5.3z"/>
</g>
<g fill="#00ffff" stroke="none">
<circle cx="652.10" cy="159.70" r="0.7"/>
<circle cx="107.20" cy="29.90" r="0.7"/>
<circle cx="115.70" cy="35.25" r="0.7"/>
<circle cx="124.20" cy="39.41" r="0.7"/>
<circle cx="132.70" cy="43.60" r="0.7"/>
<circle cx="141.21" cy="47.85" r="0.7"/>
<circle cx="149.71" cy="52.14" r="0.7"/>
<circle cx="158.21" cy="56.48" r="0.7"/>
<circle cx="166.71" cy="60.86" r="0.7"/>
<circle cx="175.21" cy="65.30" r="0.7"/>
<circle cx="183.71" cy="69.80" r="0.7"/>
<circle cx="192.21" cy="74.35" r="0.7"/>
<circle cx="200.72" cy="78.96" r="0.7"/>
<circle cx="209.22" cy="83.62" r="0.7"/>
<circle cx="217.72" cy="88.35" r="0.7"/>
<circle cx="226.22" cy="93.15" r="0.7"/>
<circle cx="234.72" cy="98.01" r="0.7"/>
<circle cx="243.22" cy="102.95" r="0.7"/>
<circle cx="251.72" cy="107.95" r="0.7"/>
<circle cx="260.23" cy="113.04" r="0.7"/>
<circle cx="268.73" cy="118.20" r="0.7"/>
<circle cx="277.23" cy="123.45" r="0.7"/>
<circle cx="285.73" cy="128.79" r="0.7"/>
<circle cx="294.23" cy="134.22" r="0.7"/>
<circle cx="302.73" cy="139.75" r="0.7"/>
<circle cx="311.23" cy="145.39" r="0.7"/>
<circle cx="319.74" cy="151.13" r="0.7"/>
<circle cx="328.24" cy="156.99" r="0.7"/>
<circle cx="336.74" cy="162.98" r="0.7"/>
<circle cx="345.24" cy="169.10" r="0.7"/>
<circle cx="353.74" cy="175.36" r="0.7"/>
<circle cx="362.24" cy="181.77" r="0.7"/>
<circle cx="370.74" cy="188.39" r="0.7"/>
<circle cx="379.25" cy="195.18" r="0.7"/>
<circle cx="387.75" cy="202.17" r="0.7"/>
<circle cx="396.25" cy="209.36" r="0.7"/>
<circle cx="404.75" cy="216.78" r="0.7"/>
<circle cx="413.25" cy="224.46" r="0.7"/>
<circle cx="421.75" cy="232.41" r="0.7"/>
<circle cx="430.25" cy="240.67" r="0.7"/>
<circle cx="438.76" cy="249.29" r="0.7"/>
<circle cx="447.26" cy="258.31" r="0.7"/>
<circle cx="455.76" cy="267.79" r="0.7"/>
<circle cx="464.26" cy="277.82" r="0.7"/>
<circle cx="472.76" cy="288.49" r="0.7"/>
<circle cx="481.26" cy="299.96" r="0.7"/>
<circle cx="489.76" cy="312.43" r="0.7"/>
<circle cx="498.27" cy="326.23" r="0.7"/>
<circle cx="506.77" cy="341.89" r="0.7"/>
<circle cx="515.27" cy="360.46" r="0.7"/>
<circle cx="523.77" cy="384.66" r="0.7"/>
<circle cx="532.27" cy="430.87" r="0.7"/>
<circle cx="540.77" cy="438.39" r="0.7"/>
<circle cx="549.27" cy="438.39" r="0.7"/>
<circle cx="557.78" cy="438.39" r="0.7"/>
<circle cx="566.28" cy="438.39" r="0.7"/>
<circle cx="574.78" cy="438.39" r="0.7"/>
<circle cx="583.28" cy="438.39" r="0.7"/>
<circle cx="591.78" cy="438.39" r="0.7"/>
<circle cx="600.28" cy="438.39" r="0.7"/>
<circle cx="608.78" cy="438.39" r="0.7"/>
<circle cx="617.29" cy="438.39" r="0.7"/>
<circle cx="625.79" cy="438.39" r="0.7"/>
<circle cx="634.29" cy="438.39" r="0.7"/>
<circle cx="642.79" cy="438.39" r="0.7"/>
<circle cx="651.29" cy="438.39" r="0.7"/>
<circle cx="659.79" cy="438.39" r="0.7"/>
<circle cx="668.29" cy="438.39" r="0.7"/>
<circle cx="676.80" cy="438.39" r="0.7"/>
<circle cx="685.30" cy="438.39" r="0.7"/>
<circle cx="693.80" cy="438.39" r="0.7"/>
<circle cx="702.30" cy="438.39" r="0.7"/>
</g>
</g>
<polyline transform="scale(0.76 1)" points="141.05,29.90 143.81,30.92 146.56,31.94 149.32,32.96 152.07,33.99 154.82,35.02 157.58,36.05 160.33,37.08 163.09,38.12 165.84,39.16 168.60,40.20 171.35,41.25 174.10,42.30 176.86,43.35 179.61,44.40 182.37,45.45 185.12,46.51 187.88,47.57 190.63,48.64 193.39,49.71 196.14,50.78 198.89,51.85 201.65,52.92 204.40,54.00 207.16,55.09 209.91,56.17 212.67,57.26 215.42,58.35 218.17,59.44 220.93,60.54 223.68,61.64 226.44,62.75 229.19,63.85 231.95,64.96 234.70,66.08 237.46,67.19 240.21,68.31 242.96,69.44 245.72,70.56 248.47,71.69 251.23,72.83 253.98,73.96 256.74,75.10 259.49,76.25 262.24,77.40 265.00,78.55 267.75,79.70 270.51,80.86 273.26,82.02 276.02,83.19 278.77,84.36 281.53,85.53 284.28,86.71 287.03,87.89 289.79,89.08 292.54,90.27 295.30,91.46 298.05,92.66 300.81,93.86 303.56,95.07 306.31,96.28 309.07,97.49 311.82,98.71 314.58,99.93 317.33,101.16 320.09,102.39 322.84,103.63 325.60,104.87 328.35,106.11 331.10,107.36 333.86,108.62 336.61,109.88 339.37,111.14 342.12,112.41 344.88,113.68 347.63,114.96 350.38,116.25 353.14,117.54 355.89,118.83 358.65,120.13 361.40,121.43 364.16,122.74 366.91,124.06 369.66,125.38 372.42,126.70 375.17,128.03 377.93,129.37 380.68,130.71 383.44,132.06 386.19,133.42 388.95,134.78 391.70,136.15 394.45,137.52 397.21,138.90 399.96,140.28 402.72,141.67 405.47,143.07 408.23,144.48 410.98,145.89 413.73,147.30 416.49,148.73 419.24,150.16 422.00,151.60 424.75,153.05 427.51,154.50 430.26,155.96 433.02,157.43 435.77,158.90 438.52,160.39 441.28,161.88 444.03,163.38 446.79,164.88 449.54,166.40 452.30,167.92 455.05,169.45 457.80,170.99 460.56,172.54 463.31,174.10 466.07,175.67 468.82,177.25 471.58,178.83 474.33,180.43 477.09,182.03 479.84,183.65 482.59,185.27 485.35,186.91 488.10,188.55 490.86,190.21 493.61,191.88 496.37,193.56 499.12,195.25 501.87,196.95 504.63,198.67 507.38,200.39 510.14,202.13 512.89,203.88 515.65,205.64 518.40,207.42 521.15,209.21 523.91,211.02 526.66,212.83 529.42,214.67 532.17,216.52 534.93,218.38 537.68,220.26 540.44,222.15 543.19,224.06 545.94,225.99 548.70,227.94 551.45,229.90 554.21,231.88 556.96,233.88 559.72,235.90 562.47,237.94 565.22,240.00 567.98,242.08 570.73,244.18 573.49,246.30 576.24,248.45 579.00,250.62 581.75,252.82 584.51,255.04 587.26,257.29 590.01,259.57 592.77,261.87 595.52,264.21 598.28,266.57 601.03,268.97 603.79,271.40 606.54,273.87 609.29,276.37 612.05,278.91 614.80,281.49 617.56,284.12 620.31,286.78 623.07,289.50 625.82,292.26 628.58,295.07 631.33,297.94 634.08,300.87 636.84,303.85 639.59,306.90 642.35,310.03 645.10,313.23 647.86,316.50 650.61,319.87 653.36,323.33 656.12,326.89 658.87,330.57 661.63,334.37 664.38,338.31 667.14,342.40 669.89,346.66 672.64,351.12 675.40,355.81 678.15,360.77 680.91,366.05 683.66,371.71 686.42,377.87 689.17,384.66 689.55,385.66 689.92,386.65 690.28,387.64 690.64,388.63 690.99,389.62 691.33,390.61 691.67,391.60 692.00,392.59 692.32,393.58 692.64,394.57 692.95,395.56 693.26,396.55 693.56,397.54 693.85,398.53 694.14,399.52 694.42,400.51 694.69,401.50 694.96,402.49 695.22,403.48 695.47,404.47 695.72,405.46 695.96,406.45 696.19,407.44 696.42,408.43 696.64,409.43 696.86,410.42 697.07,411.41 697.27,412.40 697.47,413.39 697.65,414.38 697.84,415.37 698.01,416.36 698.18,417.35 698.35,418.34 698.51,419.33 698.66,420.32 698.80,421.31 698.94,422.30 699.07,423.29 699.20,424.28 699.32,425.27 699.43,426.26 699.53,427.25 699.63,428.24 699.73,429.23 699.81,430.22 699.89,431.21 699.97,432.21 700.04,433.20 700.10,434.19 700.15,435.18 700.20,436.17 700.24,437.16 700.28,438.15 700.31,439.14 700.33,440.13 700.34,441.12 700.35,442.11 700.36,443.10" fill="none" stroke="#ff4500" stroke-width="2.9" stroke-linejoin="round"/><line x1="632" y1="187.05" x2="672.2" y2="187.05" stroke="#ff4500" stroke-width="2.0"/>
<rect x="107.15" y="29.95" width="595.15" height="413.40" fill="none" stroke="#000" stroke-width="1.3"/>
<line x1="574.6" y1="393.8" x2="547.19" y2="422.91" stroke="#000" stroke-width="3.2"/><polygon points="539.1,431.5 544.56,417.68 552.56,425.22" fill="#000"/>
<g style="filter:grayscale(1)"><g font-family="Liberation Sans, sans-serif" fill="#000"><text transform="translate(107.20 476.50) scale(1 1.043)" font-size="25.2" text-anchor="middle">0</text>
<text transform="translate(192.21 476.50) scale(1 1.043)" font-size="25.2" text-anchor="middle">0.1</text>
<text transform="translate(277.23 476.50) scale(1 1.043)" font-size="25.2" text-anchor="middle">0.2</text>
<text transform="translate(362.24 476.50) scale(1 1.043)" font-size="25.2" text-anchor="middle">0.3</text>
<text transform="translate(447.26 476.50) scale(1 1.043)" font-size="25.2" text-anchor="middle">0.4</text>
<text transform="translate(532.27 476.50) scale(1 1.043)" font-size="25.2" text-anchor="middle">0.5</text>
<text transform="translate(617.29 476.50) scale(1 1.043)" font-size="25.2" text-anchor="middle">0.6</text>
<text transform="translate(702.30 476.50) scale(1 1.043)" font-size="25.2" text-anchor="middle">0.7</text>
<text transform="translate(92.50 452.30) scale(1 1.043)" font-size="25.2" text-anchor="end">0</text>
<text transform="translate(92.50 369.66) scale(1 1.043)" font-size="25.2" text-anchor="end">0.2</text>
<text transform="translate(92.50 287.02) scale(1 1.043)" font-size="25.2" text-anchor="end">0.4</text>
<text transform="translate(92.50 204.38) scale(1 1.043)" font-size="25.2" text-anchor="end">0.6</text>
<text transform="translate(92.50 121.74) scale(1 1.043)" font-size="25.2" text-anchor="end">0.8</text>
<text transform="translate(92.50 39.10) scale(1 1.043)" font-size="25.2" text-anchor="end">1.0</text>
<text transform="translate(617.20 58.40) scale(1 1.043)" font-size="25.2" text-anchor="end">p=0.1</text>
<text transform="translate(617.20 85.70) scale(1 1.043)" font-size="25.2" text-anchor="end">0.3</text>
<text transform="translate(617.20 113.20) scale(1 1.043)" font-size="25.2" text-anchor="end">0.5</text>
<text transform="translate(617.20 140.60) scale(1 1.043)" font-size="25.2" text-anchor="end">0.7</text>
<text transform="translate(617.20 168.00) scale(1 1.043)" font-size="25.2" text-anchor="end">0.9</text>
<text transform="translate(617.00 195.90) scale(1 1.043)" font-size="26.2" text-anchor="end">Eq.(19)</text>
<text transform="translate(12.00 249.00) scale(1 1.043)" font-size="36.8" text-anchor="start">R</text>
<text transform="translate(600.20 309.00) scale(1 1.0)" font-size="31.6" text-anchor="start">(a)</text>
<text transform="translate(596.50 404.50) scale(1 1.0)" font-size="20.5" text-anchor="start">c</text>
<text transform="translate(605.90 397.40) scale(1 1.043)" font-size="31" text-anchor="start">=1/2</text></g><path transform="translate(396.8 491.4) scale(1) translate(-396.8 -491.4)" d="M397.2 498.6C397.2 495 398.8 491.4 401.2 491.4C404.5 491.4 406 497 407.0 504.5L410.9 492.2L414.4 492.2L408.0 507.5C408.5 511 408.3 517.8 405.5 517.8C402.8 517.8 403.3 511 405.6 506.5C404.5 500.5 402.9 495.4 400.6 494.8C399 494.6 398.3 496.8 397.9 498.8Z" fill="#000"/><path transform="translate(583.3 381.7) scale(0.834) translate(-396.8 -491.4)" d="M397.2 498.6C397.2 495 398.8 491.4 401.2 491.4C404.5 491.4 406 497 407.0 504.5L410.9 492.2L414.4 492.2L408.0 507.5C408.5 511 408.3 517.8 405.5 517.8C402.8 517.8 403.3 511 405.6 506.5C404.5 500.5 402.9 495.4 400.6 494.8C399 494.6 398.3 496.8 397.9 498.8Z" fill="#000"/></g>
</svg>
</body></html>
